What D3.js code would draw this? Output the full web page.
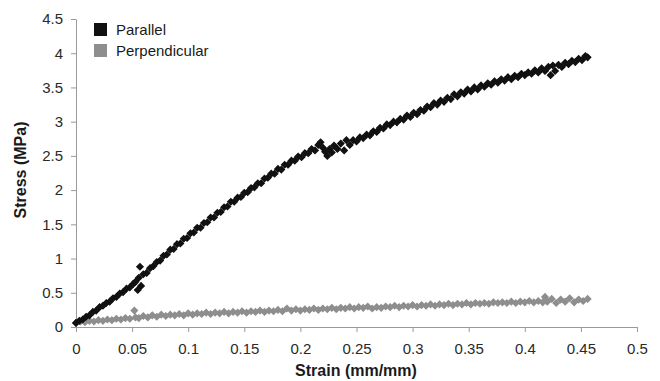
<!DOCTYPE html>
<html>
<head>
<meta charset="utf-8">
<script src="https://cdn.jsdelivr.net/npm/d3@7"></script>
<style>
  body { margin: 0; background: #fff; }
  svg { font-family: "Liberation Sans", Arial, sans-serif; }
  .axis path, .axis line { stroke: #9a9a9a; }
  .axis text { font-size: 15px; fill: #2a2a2a; }
  .title { font-size: 16px; font-weight: bold; fill: #1a1a1a; }
  .legend text { font-size: 15px; fill: #1a1a1a; }
</style>
</head>
<body>
<svg id="chart"></svg>
<script>
// [strain, stress] readings
var parallel = [
  [0.000,0.06],[0.003,0.09],[0.006,0.11],[0.009,0.15],[0.012,0.17],[0.015,0.22],[0.018,0.24],[0.021,0.29],
  [0.024,0.31],[0.027,0.35],[0.030,0.37],[0.033,0.42],[0.036,0.44],[0.039,0.49],[0.042,0.51],[0.045,0.56],
  [0.048,0.58],[0.051,0.63],[0.053,0.66],[0.055,0.54],[0.056,0.72],[0.057,0.88],[0.058,0.60],[0.060,0.77],
  [0.063,0.79],[0.066,0.86],[0.069,0.89],[0.072,0.95],[0.075,0.97],[0.078,1.04],[0.081,1.06],[0.084,1.13],
  [0.087,1.14],[0.090,1.21],[0.093,1.22],[0.096,1.29],[0.099,1.30],[0.102,1.37],[0.105,1.38],[0.108,1.45],
  [0.111,1.45],[0.114,1.52],[0.117,1.53],[0.120,1.60],[0.123,1.60],[0.126,1.67],[0.129,1.68],[0.132,1.75],
  [0.135,1.76],[0.138,1.83],[0.141,1.83],[0.144,1.89],[0.147,1.90],[0.150,1.96],[0.153,1.97],[0.156,2.03],
  [0.159,2.04],[0.162,2.10],[0.165,2.10],[0.168,2.17],[0.171,2.18],[0.174,2.24],[0.177,2.24],[0.180,2.31],
  [0.183,2.30],[0.186,2.37],[0.189,2.37],[0.192,2.43],[0.195,2.43],[0.198,2.49],[0.201,2.48],[0.204,2.54],
  [0.207,2.54],[0.210,2.60],[0.213,2.58],[0.216,2.66],[0.218,2.70],[0.220,2.62],[0.222,2.56],[0.224,2.50],
  [0.226,2.60],[0.228,2.55],[0.230,2.65],[0.233,2.60],[0.236,2.68],[0.239,2.58],[0.241,2.73],[0.244,2.66],
  [0.247,2.73],[0.250,2.71],[0.253,2.77],[0.256,2.76],[0.259,2.81],[0.262,2.80],[0.265,2.86],[0.268,2.85],
  [0.271,2.91],[0.274,2.90],[0.277,2.96],[0.280,2.95],[0.283,3.00],[0.286,2.99],[0.289,3.04],[0.292,3.03],
  [0.295,3.09],[0.298,3.07],[0.301,3.13],[0.304,3.11],[0.307,3.17],[0.310,3.16],[0.313,3.22],[0.316,3.21],
  [0.319,3.27],[0.322,3.25],[0.325,3.31],[0.328,3.29],[0.331,3.35],[0.334,3.33],[0.337,3.40],[0.340,3.37],
  [0.343,3.43],[0.346,3.41],[0.349,3.47],[0.352,3.44],[0.355,3.50],[0.358,3.47],[0.361,3.53],[0.364,3.51],
  [0.367,3.56],[0.370,3.54],[0.373,3.59],[0.376,3.57],[0.379,3.62],[0.382,3.60],[0.385,3.65],[0.388,3.62],
  [0.391,3.67],[0.394,3.65],[0.397,3.70],[0.400,3.68],[0.403,3.72],[0.406,3.70],[0.409,3.75],[0.412,3.72],
  [0.415,3.78],[0.418,3.74],[0.421,3.80],[0.423,3.68],[0.425,3.82],[0.427,3.74],[0.430,3.83],[0.433,3.80],
  [0.436,3.86],[0.439,3.84],[0.442,3.89],[0.445,3.87],[0.448,3.92],[0.451,3.90],[0.454,3.96],[0.456,3.94]
];

var perpendicular = [
  [0.000,0.06],[0.004,0.08],[0.008,0.07],[0.012,0.09],[0.016,0.08],[0.020,0.10],[0.024,0.09],[0.028,0.11],
  [0.032,0.10],[0.036,0.12],[0.040,0.11],[0.044,0.13],[0.048,0.12],[0.052,0.24],[0.053,0.14],[0.056,0.13],
  [0.060,0.16],[0.064,0.14],[0.068,0.17],[0.072,0.15],[0.076,0.18],[0.080,0.16],[0.084,0.18],[0.088,0.17],
  [0.092,0.19],[0.096,0.17],[0.100,0.20],[0.104,0.18],[0.108,0.20],[0.112,0.19],[0.116,0.21],[0.120,0.19],
  [0.124,0.21],[0.128,0.20],[0.132,0.22],[0.136,0.20],[0.140,0.22],[0.144,0.21],[0.148,0.23],[0.152,0.21],
  [0.156,0.23],[0.160,0.22],[0.164,0.24],[0.168,0.22],[0.172,0.24],[0.176,0.23],[0.180,0.25],[0.184,0.23],
  [0.188,0.27],[0.192,0.24],[0.196,0.26],[0.200,0.24],[0.204,0.26],[0.208,0.25],[0.212,0.27],[0.216,0.25],
  [0.220,0.27],[0.224,0.26],[0.228,0.28],[0.232,0.26],[0.236,0.28],[0.240,0.27],[0.244,0.29],[0.248,0.27],
  [0.252,0.29],[0.256,0.28],[0.260,0.30],[0.264,0.27],[0.268,0.29],[0.272,0.28],[0.276,0.30],[0.280,0.29],
  [0.284,0.31],[0.288,0.29],[0.292,0.31],[0.296,0.30],[0.300,0.32],[0.304,0.30],[0.308,0.32],[0.312,0.31],
  [0.316,0.33],[0.320,0.31],[0.324,0.33],[0.328,0.32],[0.332,0.34],[0.336,0.32],[0.340,0.34],[0.344,0.33],
  [0.348,0.35],[0.352,0.33],[0.356,0.35],[0.360,0.34],[0.364,0.35],[0.368,0.34],[0.372,0.36],[0.376,0.35],
  [0.380,0.36],[0.384,0.35],[0.388,0.37],[0.392,0.35],[0.396,0.37],[0.400,0.36],[0.404,0.38],[0.408,0.36],
  [0.412,0.38],[0.416,0.36],[0.418,0.44],[0.420,0.37],[0.424,0.41],[0.428,0.35],[0.432,0.40],[0.436,0.37],
  [0.440,0.42],[0.444,0.36],[0.448,0.40],[0.452,0.38],[0.456,0.41]
];

var xTicks = [0, 0.05, 0.1, 0.15, 0.2, 0.25, 0.3, 0.35, 0.4, 0.45, 0.5];
var yTicks = [0, 0.5, 1, 1.5, 2, 2.5, 3, 3.5, 4, 4.5];
var seriesNames = ['Parallel', 'Perpendicular'];
var seriesColors = ['#111111', '#8e8e8e'];

(function (d3) {
    'use strict';

    var width = 660,
        height = 381,
        margin = { top: 19, right: 23, bottom: 54, left: 76 };

    var x = d3.scaleLinear().domain([0, 0.5]).range([margin.left, width - margin.right]),
        y = d3.scaleLinear().domain([0, 4.5]).range([height - margin.bottom, margin.top]);

    var svg = d3.select('#chart')
        .attr('width', width)
        .attr('height', height);

    var fmt = function (d) { return d === 0 ? '0' : String(d); };

    svg.append('g')
        .attr('class', 'axis axis--x')
        .attr('transform', 'translate(0,' + (height - margin.bottom) + ')')
        .call(d3.axisBottom(x).tickValues(xTicks).tickFormat(fmt).tickSize(5).tickSizeOuter(0).tickPadding(11));

    svg.append('g')
        .attr('class', 'axis axis--y')
        .attr('transform', 'translate(' + margin.left + ',0)')
        .call(d3.axisLeft(y).tickValues(yTicks).tickFormat(fmt).tickSize(5).tickSizeOuter(0).tickPadding(8));

    svg.selectAll('.axis text').attr('font-family', null).attr('font-size', null);

    var diamond = d3.symbol().type(d3.symbolSquare).size(19);

    [perpendicular, parallel].forEach(function (data, k) {
        var color = k === 0 ? seriesColors[1] : seriesColors[0];
        svg.append('g')
            .selectAll('path')
            .data(data)
            .enter()
            .append('path')
            .attr('d', diamond)
            .attr('transform', function (d) { return 'translate(' + x(d[0]) + ',' + y(d[1]) + ') rotate(45)'; })
            .attr('fill', color)
            .attr('stroke', color)
            .attr('stroke-width', 1.4);
    });

    var legend = svg.selectAll('.legend')
        .data(seriesNames)
        .enter()
        .append('g')
        .attr('class', 'legend')
        .attr('transform', function (d, i) { return 'translate(94,' + (23 + i * 21) + ')'; });

    legend.append('rect')
        .attr('width', 13)
        .attr('height', 13)
        .attr('fill', function (d, i) { return seriesColors[i]; });

    legend.append('text')
        .attr('x', 22)
        .attr('y', 12)
        .text(function (d) { return d; });

    svg.append('text')
        .attr('class', 'title')
        .attr('x', 356)
        .attr('y', 376)
        .style('text-anchor', 'middle')
        .text('Strain (mm/mm)');

    svg.append('text')
        .attr('class', 'title')
        .attr('transform', 'rotate(-90)')
        .attr('x', -170)
        .attr('y', 26)
        .style('text-anchor', 'middle')
        .text('Stress (MPa)');

})(window.d3);
</script>
</body>
</html>
